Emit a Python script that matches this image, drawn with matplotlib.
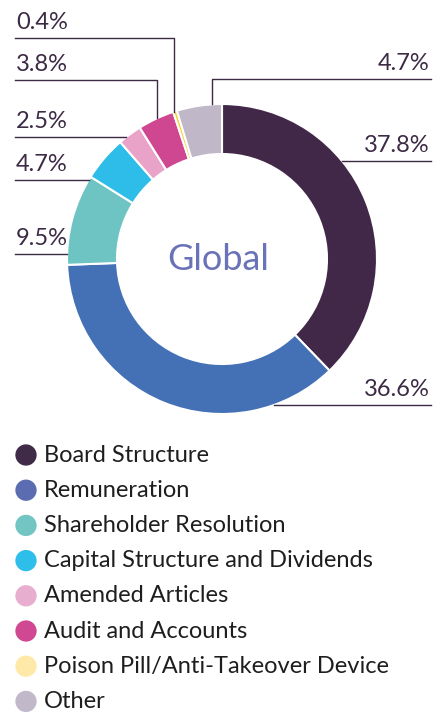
import matplotlib
matplotlib.use("Agg")
import matplotlib.pyplot as plt
import numpy as np

# data
categories = ["Board Structure", "Remuneration", "Shareholder Resolution",
              "Capital Structure and Dividends", "Amended Articles",
              "Audit and Accounts", "Poison Pill/Anti-Takeover Device", "Other"]
shares = [37.8, 36.6, 9.5, 4.7, 2.5, 3.8, 0.4, 4.7]
pie_colors = ["#422848", "#4470B5", "#6EC4C3", "#2DBDE8", "#E9A3C8",
              "#CF4791", "#F6CF2F", "#C0B8C8"]
legend_colors = ["#3F2A48", "#5B6CB0", "#72C5C3", "#2DBEEA", "#E8AECF",
                 "#D04892", "#FFE9A8", "#C1B9CA"]

W, H = 445, 713
CX, CY, R = 222, 259, 155
INK = "#3D2B45"
FONT = "Lato"
PCT_SIZE = 17

fig = plt.figure(figsize=(W / 100, H / 100), dpi=100)
ax = fig.add_axes([0, 0, 1, 1])

def fy(y):
    return H - y

ax.pie(shares, colors=pie_colors, startangle=90, counterclock=False,
       center=(CX, fy(CY)), radius=R,
       wedgeprops=dict(width=50, edgecolor="white", linewidth=1.5))
ax.set_xlim(0, W)
ax.set_ylim(0, H)
ax.set_aspect("equal")
ax.axis("off")

ax.text(CX - 4, fy(CY), "Global", ha="center", va="center", fontsize=26,
        color="#6A72B8", family=FONT)

def circle_x(y, side):
    dy = CY - y
    return CX + side * np.sqrt(max(R ** 2 - dy ** 2, 0))

def circle_y(x):
    dx = x - CX
    return CY - np.sqrt(R ** 2 - dx ** 2)

lab = lambda v: f"{v:.1f}%"

def pct(x, ly, v, ha):
    ax.text(x, fy(ly - 9), lab(v), ha=ha, va="baseline",
            fontsize=PCT_SIZE, color=INK, family=FONT)

# left labels with horizontal leaders: (index, line y)
for i, ly in [(4, 137), (3, 180), (2, 254)]:
    x2 = circle_x(ly, -1)
    ax.plot([15, x2], [fy(ly), fy(ly)], color=INK, lw=1)
    pct(16, ly, shares[i], "left")

# left labels with elbow leaders: (index, line y, line x)
for i, ly, lx in [(6, 38, 174), (5, 80, 157)]:
    ax.plot([15, lx, lx], [fy(ly), fy(ly), fy(circle_y(lx))], color=INK, lw=1)
    pct(16, ly, shares[i], "left")

# right labels
ly, lx = 79, 212
ax.plot([431, lx, lx], [fy(ly), fy(ly), fy(circle_y(lx))], color=INK, lw=1)
pct(430, ly, shares[7], "right")
for i, ly in [(0, 161), (1, 405)]:
    x2 = circle_x(ly, 1)
    ax.plot([x2, 431], [fy(ly), fy(ly)], color=INK, lw=1)
    pct(430, ly, shares[i], "right")

# legend
for k, (name, c) in enumerate(zip(categories, legend_colors)):
    y = 455 + k * 35.2
    ax.scatter([26], [fy(y)], s=235, color=c, edgecolors="none")
    ax.text(44, fy(y), name, ha="left", va="center", fontsize=17,
            color="#1E1E1E", family=FONT)

fig.savefig("out.png", dpi=100)
